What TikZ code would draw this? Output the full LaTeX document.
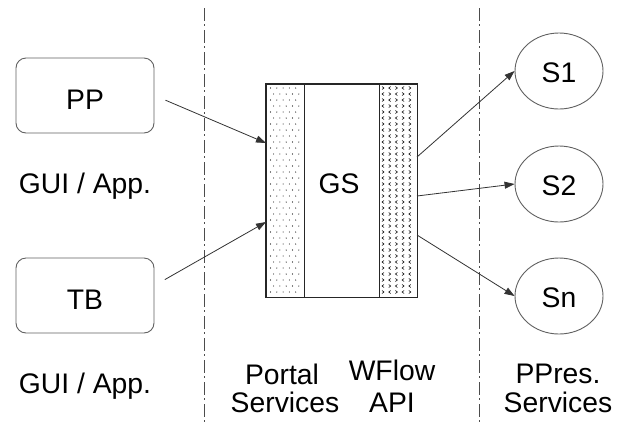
\documentclass[tikz,border=0pt]{standalone}
\usepackage{fontspec}
\setmainfont{Liberation Sans}
\usetikzlibrary{shapes.geometric,arrows.meta}
\begin{document}
\begin{tikzpicture}[x=1pt,y=-1pt,
  lbl/.style={font=\fontsize{28.3}{29}\selectfont, inner sep=0pt, anchor=base},
  rbox/.style={draw=black!62, line width=0.9pt, rounded corners=10pt, minimum width=138pt, minimum height=75pt, inner sep=0pt},
  svc/.style={draw=black!62, line width=0.9pt, ellipse, minimum width=88pt, minimum height=76pt, inner sep=0pt},
  arr/.style={draw=black!80, line width=0.8pt, -{Triangle[length=10pt,width=7pt]}},
  sep/.style={draw=black!70, line width=0.8pt, dash pattern=on 13pt off 3pt on 2pt off 4pt},
  gsbox/.style={draw=black!85, line width=1pt, minimum width=151pt, minimum height=213pt, inner sep=0pt}
]
\useasboundingbox[fill=white] (0,0) rectangle (621,424);

% separators
\coordinate (sepLtop) at (204,8);
\coordinate (sepLbot) at (204,424);
\coordinate (sepRtop) at (479,8);
\coordinate (sepRbot) at (479,424);
\draw[sep] (sepLtop) -- (sepLbot);
\draw[sep] (sepRtop) -- (sepRbot);

% client boxes
\node[rbox] (PP) at (85,95.5) {};
\node[rbox] (TB) at (85,295.5) {};
\node[lbl] (PPt) at (85,109) {PP};
\node[lbl] (TBt) at (85,309) {TB};
\node[lbl] (gui1) at (85,193) {GUI / App.};
\node[lbl] (gui2) at (85,393) {GUI / App.};

% GS box with patterned panels
\node[gsbox] (GS) at (341.5,190.5) {};
% dotted left panel
\foreach \j in {0,...,34}{
  \pgfmathsetmacro{\yy}{88+6*\j}
  \pgfmathsetmacro{\off}{mod(\j,2)*3.1}
  \foreach \i in {0,...,4}{
    \pgfmathsetmacro{\xx}{270.5+\off+6.3*\i}
    \ifdim\xx pt<302pt
      \fill[black] (\xx,\yy) circle (0.55pt);
    \fi
  }
}
% chevron right panel
\foreach \j in {0,...,34}{
  \pgfmathsetmacro{\yy}{88+6*\j}
  \foreach \i in {0,...,4}{
    \pgfmathsetmacro{\xx}{383+6.7*\i}
    \pgfmathtruncatemacro{\k}{mod(\i+\j,2)}
    \ifnum\k=0
      \draw[black, line width=0.55pt] (\xx-1,\yy-1.5) -- (\xx+1,\yy) -- (\xx-1,\yy+1.5);
    \else
      \draw[black, line width=0.55pt] (\xx+1,\yy-1.5) -- (\xx-1,\yy) -- (\xx+1,\yy+1.5);
    \fi
  }
}
\draw[black!85, line width=1pt] (GS.north west) rectangle (GS.south east);
\coordinate (divA) at (304,84);
\coordinate (divB) at (379,84);
\draw[black!85, line width=1pt] (divA) -- (divA |- GS.south);
\draw[black!85, line width=1pt] (divB) -- (divB |- GS.south);
\node[lbl] (GSt) at (339,193) {GS};

% services
\node[svc] (S1) at (559,71) {};
\node[svc] (S2) at (559,184) {};
\node[svc] (Sn) at (559,296) {};
\node[lbl] (S1t) at (559,82) {S1};
\node[lbl] (S2t) at (559,195) {S2};
\node[lbl] (Snt) at (559,307) {Sn};

% connectors
\coordinate (inA) at (266,143);
\coordinate (inB) at (266,222);
\coordinate (outA) at (417,157);
\coordinate (outB) at (417,196);
\coordinate (outC) at (417,235);
\draw[arr, shorten <=12pt] (PP.east) -- (inA);
\draw[arr, shorten <=12pt] ([yshift=10pt]TB.east) -- (inB);
\draw[arr] (outA) -- (S1.west);
\draw[arr] (outB) -- (S2.west);
\draw[arr] (outC) -- (Sn.west);

% bottom labels
\node[lbl] (port1) at (282,384) {Portal};
\node[lbl] (port2) at (285,412) {Services};
\node[lbl] (wf1) at (392,380) {WFlow};
\node[lbl] (wf2) at (392,412) {API};
\node[lbl] (pp1) at (558,383) {PPres.};
\node[lbl] (pp2) at (558,412) {Services};
\end{tikzpicture}
\end{document}
